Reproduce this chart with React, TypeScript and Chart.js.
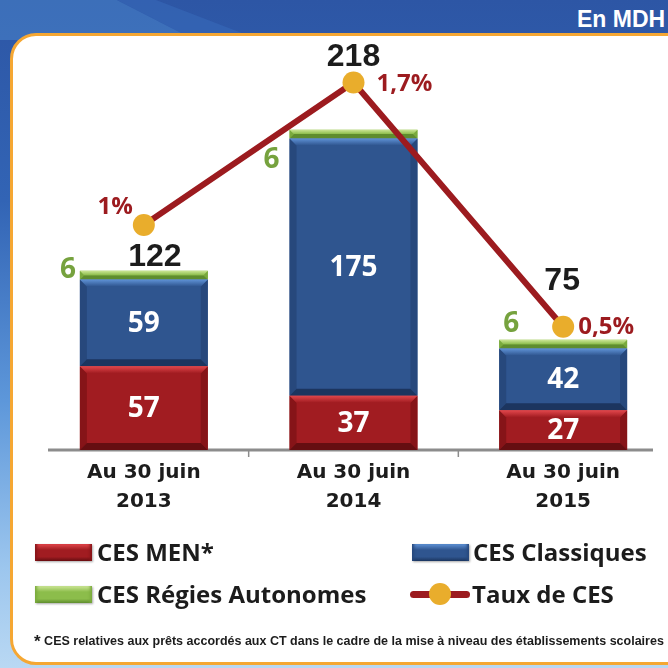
import React, { useEffect, useRef } from "react";
import { Chart, registerables } from "chart.js";

Chart.register(...registerables);

// ---------- DATA ----------
const categories = [
  ["Au 30 juin", "2013"],
  ["Au 30 juin", "2014"],
  ["Au 30 juin", "2015"],
];
const cesMen = [57, 37, 27];
const cesClassiques = [59, 175, 42];
const cesRegies = [6, 6, 6];
const totals = [122, 218, 75];
const tauxCes = [1, 1.7, 0.5];
const tauxLabels = ["1%", "1,7%", "0,5%"];
const seriesNames = ["CES MEN*", "CES Classiques", "CES Régies Autonomes", "Taux de CES"];

// ---------- STYLE ----------
const RED = { main: "#a11c21", light: "#e2474c", side: "#861418", dark: "#650e11" };
const BLUE = { main: "#2f558f", light: "#5f92d6", side: "#27487c", dark: "#1c355f" };
const GREEN = { main: "#8cbd4b", light: "#cde697", side: "#7aaa3d", dark: "#5f8d2e" };
const LINE_COLOR = "#9c1b1f";
const POINT_COLOR = "#e9ad2c";

// label placement per category (relative offsets, styling only)
const totalOffsets = [
  [11, -14],
  [0, -72],
  [-1, -59],
];
const regieOffsets = [
  [-12, -5],
  [-18, 26],
  [12, -20],
];
const pctOffsets = [
  [-11, -18, "right"],
  [23, 2, "left"],
  [15, 0, "left"],
];

function bevel(ctx: CanvasRenderingContext2D, el: any, c: any) {
  const w = el.width;
  const left = el.x - w / 2;
  const right = el.x + w / 2;
  const top = Math.min(el.y, el.base);
  const bottom = Math.max(el.y, el.base);
  const h = bottom - top;
  const b = Math.min(7, h / 2);
  ctx.save();
  ctx.fillStyle = c.side;
  ctx.beginPath();
  ctx.moveTo(left, top);
  ctx.lineTo(left + b, top + b);
  ctx.lineTo(left + b, bottom - b);
  ctx.lineTo(left, bottom);
  ctx.closePath();
  ctx.fill();
  ctx.beginPath();
  ctx.moveTo(right, top);
  ctx.lineTo(right - b, top + b);
  ctx.lineTo(right - b, bottom - b);
  ctx.lineTo(right, bottom);
  ctx.closePath();
  ctx.fill();
  ctx.fillStyle = c.dark;
  ctx.beginPath();
  ctx.moveTo(left, bottom);
  ctx.lineTo(left + b, bottom - b);
  ctx.lineTo(right - b, bottom - b);
  ctx.lineTo(right, bottom);
  ctx.closePath();
  ctx.fill();
  const g = ctx.createLinearGradient(0, top, 0, top + b);
  g.addColorStop(0, c.light);
  g.addColorStop(1, c.main);
  ctx.fillStyle = g;
  ctx.beginPath();
  ctx.moveTo(left, top);
  ctx.lineTo(right, top);
  ctx.lineTo(right - b, top + b);
  ctx.lineTo(left + b, top + b);
  ctx.closePath();
  ctx.fill();
  ctx.restore();
}

const palette = [RED, BLUE, GREEN];

const cesPlugin = {
  id: "cesPlugin",
  beforeDatasetsDraw(chart: any) {
    const ctx = chart.ctx;
    const x = chart.scales.x;
    const area = chart.chartArea;
    ctx.save();
    ctx.strokeStyle = "#8c8c8c";
    ctx.lineWidth = 3;
    ctx.beginPath();
    ctx.moveTo(area.left + 9, area.bottom);
    ctx.lineTo(area.right - 15, area.bottom);
    ctx.stroke();
    ctx.lineWidth = 1.5;
    for (let i = 0; i < categories.length - 1; i++) {
      const px = (x.getPixelForValue(i) + x.getPixelForValue(i + 1)) / 2;
      ctx.beginPath();
      ctx.moveTo(px, area.bottom);
      ctx.lineTo(px, area.bottom + 7);
      ctx.stroke();
    }
    ctx.restore();
  },
  afterDatasetDraw(chart: any, args: any) {
    if (args.index > 2) return;
    const ctx = chart.ctx;
    const meta = chart.getDatasetMeta(args.index);
    meta.data.forEach((el: any) => bevel(ctx, el, palette[args.index]));
  },
  afterDatasetsDraw(chart: any) {
    const ctx = chart.ctx;
    const men = chart.getDatasetMeta(0);
    const cls = chart.getDatasetMeta(1);
    const reg = chart.getDatasetMeta(2);
    const line = chart.getDatasetMeta(3);
    ctx.save();
    ctx.textBaseline = "middle";
    ctx.fillStyle = "#ffffff";
    ctx.textAlign = "center";
    ctx.font = "bold 28px 'Open Sans'";
    [men, cls].forEach((meta: any, di: number) => {
      meta.data.forEach((el: any, i: number) => {
        const v = di === 0 ? cesMen[i] : cesClassiques[i];
        ctx.fillText(String(v), el.x, (el.y + el.base) / 2 + 1);
      });
    });
    ctx.fillStyle = "#76a23e";
    reg.data.forEach((el: any, i: number) => {
      const left = el.x - el.width / 2;
      const cy = (el.y + el.base) / 2;
      ctx.fillText(String(cesRegies[i]), left + regieOffsets[i][0], cy + regieOffsets[i][1]);
    });
    ctx.fillStyle = "#1c1c1c";
    ctx.font = "bold 32px 'Liberation Sans'";
    reg.data.forEach((el: any, i: number) => {
      ctx.fillText(String(totals[i]), el.x + totalOffsets[i][0], el.y + totalOffsets[i][1]);
    });
    ctx.fillStyle = LINE_COLOR;
    ctx.font = "bold 24px 'Open Sans'";
    line.data.forEach((pt: any, i: number) => {
      const o = pctOffsets[i];
      ctx.textAlign = o[2] as CanvasTextAlign;
      ctx.fillText(tauxLabels[i], pt.x + (o[0] as number), pt.y + (o[1] as number));
    });
    ctx.restore();
  },
};

function Swatch({ left, top, c }: { left: number; top: number; c: any }) {
  return (
    <div
      style={{
        position: "absolute",
        left,
        top,
        width: 57,
        height: 17,
        background: `linear-gradient(to bottom, ${c.light} 0%, ${c.main} 35%, ${c.main} 75%, ${c.dark} 100%)`,
        boxShadow: `inset 4px 0 3px -2px ${c.side}, inset -4px 0 3px -2px ${c.side}, 1px 1px 2px rgba(0,0,0,0.35)`,
      }}
    />
  );
}

const legendText: React.CSSProperties = {
  position: "absolute",
  fontFamily: "'Open Sans', sans-serif",
  fontWeight: 700,
  fontSize: 24,
  lineHeight: "30px",
  color: "#1c1c1c",
  whiteSpace: "nowrap",
};

export default function App() {
  const canvasRef = useRef<HTMLCanvasElement | null>(null);

  useEffect(() => {
    if (!canvasRef.current) return;
    const chart = new Chart(canvasRef.current, {
      type: "bar",
      data: {
        labels: categories,
        datasets: [
          {
            label: seriesNames[0],
            data: cesMen,
            backgroundColor: RED.main,
            stack: "s",
            order: 1,
            barPercentage: 0.61,
            categoryPercentage: 1,
          },
          {
            label: seriesNames[1],
            data: cesClassiques,
            backgroundColor: BLUE.main,
            stack: "s",
            order: 1,
            barPercentage: 0.61,
            categoryPercentage: 1,
          },
          {
            label: seriesNames[2],
            data: cesRegies,
            backgroundColor: GREEN.main,
            stack: "s",
            order: 1,
            barPercentage: 0.61,
            categoryPercentage: 1,
          },
          {
            type: "line",
            label: seriesNames[3],
            data: tauxCes,
            yAxisID: "y2",
            borderColor: LINE_COLOR,
            borderWidth: 6,
            pointRadius: 11,
            pointBackgroundColor: POINT_COLOR,
            pointBorderWidth: 0,
            tension: 0,
            order: 0,
          } as any,
        ],
      },
      options: {
        responsive: false,
        animation: false,
        layout: { autoPadding: false, padding: { left: 39, right: 0, top: 40, bottom: 0 } },
        plugins: { legend: { display: false }, tooltip: { enabled: false } },
        scales: {
          x: {
            stacked: true,
            grid: { display: false, drawTicks: false },
            border: { display: false },
            ticks: {
              color: "#1c1c1c",
              font: { family: "'DejaVu Sans'", weight: "bold", size: 20, lineHeight: 1.45 },
              padding: 8,
              maxRotation: 0,
              autoSkip: false,
            },
            afterFit: (s: any) => {
              s.height = 218;
            },
          },
          y: { stacked: true, display: false, min: 0, max: 279 },
          y2: { display: false, min: -0.106, max: 1.909, position: "right" },
        },
      } as any,
      plugins: [cesPlugin],
    });
    return () => chart.destroy();
  }, []);

  return (
    <div style={{ position: "fixed", left: 0, top: 0, width: 668, height: 668, overflow: "hidden" }}>
      <div
        style={{
          position: "absolute",
          inset: 0,
          background: "linear-gradient(to bottom, #2d56a5 0%, #3264b5 30%, #5d97da 60%, #9cc6ee 85%, #b9d8f3 100%)",
        }}
      />
      <div
        style={{
          position: "absolute",
          left: 0,
          top: 0,
          width: 260,
          height: 40,
          background: "rgba(75,135,205,0.5)",
          clipPath: "polygon(0 0, 45% 0, 75% 100%, 0 100%)",
        }}
      />
      <div
        style={{
          position: "absolute",
          left: 0,
          top: 0,
          width: 260,
          height: 40,
          background: "rgba(55,105,185,0.6)",
          clipPath: "polygon(45% 0, 60% 0, 100% 100%, 75% 100%)",
        }}
      />
      <div
        style={{
          position: "absolute",
          left: 10,
          top: 33,
          width: 700,
          height: 632,
          background: "#ffffff",
          border: "3px solid #f5a733",
          borderRadius: 26,
          boxSizing: "border-box",
        }}
      />
      <div
        style={{
          position: "absolute",
          left: 577,
          top: 6,
          fontFamily: "'Liberation Sans', Arial, sans-serif",
          fontWeight: 700,
          fontSize: 23,
          color: "#ffffff",
          whiteSpace: "nowrap",
        }}
      >
        En MDH
      </div>
      <canvas
        ref={canvasRef}
        width={668}
        height={668}
        style={{ position: "absolute", left: 0, top: 0, width: 668, height: 668 }}
      />
      <Swatch left={35} top={544} c={RED} />
      <div style={{ ...legendText, left: 97, top: 537 }}>{seriesNames[0]}</div>
      <Swatch left={412} top={544} c={BLUE} />
      <div style={{ ...legendText, left: 473, top: 537 }}>{seriesNames[1]}</div>
      <Swatch left={35} top={586} c={GREEN} />
      <div style={{ ...legendText, left: 97, top: 579 }}>{seriesNames[2]}</div>
      <div
        style={{
          position: "absolute",
          left: 410,
          top: 591,
          width: 60,
          height: 7,
          borderRadius: 4,
          background: LINE_COLOR,
        }}
      />
      <div
        style={{
          position: "absolute",
          left: 429,
          top: 583,
          width: 22,
          height: 22,
          borderRadius: "50%",
          background: POINT_COLOR,
        }}
      />
      <div style={{ ...legendText, left: 472, top: 579 }}>{seriesNames[3]}</div>
      <div
        style={{
          position: "absolute",
          left: 34,
          top: 632,
          fontFamily: "'Liberation Sans', Arial, sans-serif",
          fontWeight: 700,
          fontSize: 12.5,
          lineHeight: "18px",
          color: "#1c1c1c",
          whiteSpace: "nowrap",
        }}
      >
        <span style={{ fontSize: 17, verticalAlign: "-2px" }}>*</span> CES relatives aux prêts accordés aux CT dans le
        cadre de la mise à niveau des établissements scolaires
      </div>
    </div>
  );
}
